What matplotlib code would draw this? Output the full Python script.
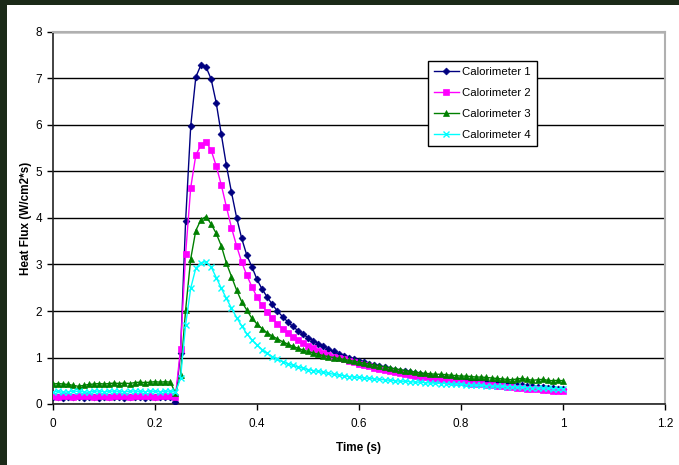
import numpy as np
import matplotlib
matplotlib.use("Agg")
import matplotlib.pyplot as plt
from matplotlib.patches import Rectangle

plt.rcParams['font.family'] = ['Liberation Sans', 'DejaVu Sans']

# time axis, 0.01 s sampling
time_s = np.round(np.arange(0, 101) * 0.01, 2)

# Calorimeter readings (W/cm2*s)
cal1 = [0.14, 0.15, 0.13, 0.14, 0.16, 0.14, 0.13, 0.15, 0.14, 0.13, 0.15, 0.14,
        0.16, 0.14, 0.13, 0.15, 0.14, 0.15, 0.13, 0.14, 0.15, 0.14, 0.16, 0.14,
        0.05, 1.10, 3.93, 5.97, 7.03, 7.29, 7.25, 6.99, 6.48, 5.80, 5.13, 4.55,
        4.01, 3.56, 3.20, 2.95, 2.68, 2.47, 2.30, 2.14, 2.00, 1.88, 1.77, 1.67,
        1.58, 1.50, 1.43, 1.36, 1.30, 1.24, 1.18, 1.13, 1.08, 1.04, 1.00, 0.96,
        0.93, 0.90, 0.87, 0.84, 0.81, 0.79, 0.76, 0.74, 0.72, 0.70, 0.68, 0.66,
        0.64, 0.62, 0.61, 0.59, 0.58, 0.56, 0.55, 0.54, 0.52, 0.51, 0.50, 0.49,
        0.48, 0.47, 0.46, 0.45, 0.44, 0.43, 0.42, 0.41, 0.40, 0.39, 0.38, 0.37,
        0.36, 0.35, 0.34, 0.33, 0.32]

cal2 = [0.17, 0.16, 0.18, 0.17, 0.16, 0.18, 0.17, 0.17, 0.16, 0.18, 0.17, 0.16,
        0.17, 0.18, 0.17, 0.16, 0.17, 0.18, 0.17, 0.17, 0.16, 0.18, 0.17, 0.17,
        0.15, 1.18, 3.22, 4.65, 5.35, 5.57, 5.64, 5.46, 5.12, 4.71, 4.24, 3.79,
        3.40, 3.05, 2.77, 2.52, 2.30, 2.12, 1.97, 1.84, 1.72, 1.62, 1.53, 1.45,
        1.38, 1.31, 1.25, 1.20, 1.15, 1.10, 1.06, 1.02, 0.99, 0.96, 0.93, 0.90,
        0.87, 0.84, 0.81, 0.78, 0.75, 0.73, 0.71, 0.69, 0.67, 0.65, 0.62, 0.60,
        0.58, 0.57, 0.55, 0.54, 0.52, 0.51, 0.49, 0.48, 0.47, 0.45, 0.44, 0.43,
        0.42, 0.41, 0.40, 0.39, 0.38, 0.37, 0.36, 0.35, 0.34, 0.33, 0.33, 0.32,
        0.31, 0.30, 0.29, 0.28, 0.27]

cal3 = [0.43, 0.44, 0.43, 0.42, 0.40, 0.38, 0.40, 0.42, 0.43, 0.44, 0.43, 0.44,
        0.45, 0.44, 0.45, 0.44, 0.46, 0.47, 0.46, 0.47, 0.48, 0.47, 0.48, 0.47,
        0.24, 0.62, 2.02, 3.12, 3.73, 3.96, 4.03, 3.87, 3.67, 3.40, 3.03, 2.74,
        2.45, 2.20, 2.02, 1.84, 1.72, 1.62, 1.53, 1.46, 1.40, 1.34, 1.29, 1.24,
        1.20, 1.16, 1.13, 1.10, 1.07, 1.04, 1.02, 1.00, 0.98, 0.96, 0.94, 0.92,
        0.90, 0.88, 0.86, 0.84, 0.82, 0.80, 0.78, 0.76, 0.74, 0.72, 0.70, 0.69,
        0.67, 0.66, 0.65, 0.64, 0.64, 0.63, 0.62, 0.61, 0.60, 0.60, 0.59, 0.58,
        0.58, 0.57, 0.56, 0.55, 0.54, 0.53, 0.52, 0.54, 0.55, 0.53, 0.51, 0.52,
        0.53, 0.51, 0.50, 0.51, 0.50]

cal4 = [0.26, 0.27, 0.25, 0.26, 0.28, 0.27, 0.26, 0.25, 0.27, 0.28, 0.26, 0.27,
        0.28, 0.27, 0.26, 0.27, 0.28, 0.27, 0.26, 0.28, 0.27, 0.26, 0.27, 0.28,
        0.25, 0.55, 1.70, 2.49, 2.92, 3.04, 3.06, 2.95, 2.72, 2.49, 2.27, 2.06,
        1.86, 1.68, 1.51, 1.38, 1.27, 1.17, 1.09, 1.02, 0.96, 0.91, 0.87, 0.83,
        0.80, 0.77, 0.74, 0.72, 0.70, 0.68, 0.66, 0.64, 0.62, 0.61, 0.59, 0.58,
        0.57, 0.56, 0.55, 0.54, 0.53, 0.52, 0.51, 0.50, 0.49, 0.49, 0.48, 0.47,
        0.47, 0.46, 0.45, 0.45, 0.44, 0.44, 0.43, 0.42, 0.42, 0.41, 0.41, 0.40,
        0.40, 0.39, 0.39, 0.38, 0.38, 0.37, 0.37, 0.36, 0.36, 0.35, 0.35, 0.34,
        0.34, 0.34, 0.33, 0.33, 0.33]

labels = ["Calorimeter 1", "Calorimeter 2", "Calorimeter 3", "Calorimeter 4"]
colors = ["#000080", "#FF00FF", "#008000", "#00FFFF"]
markers = ["D", "s", "^", "x"]
msizes = [3.5, 4, 4.5, 4.5]

fig = plt.figure(figsize=(6.79, 4.65), dpi=100)
fig.patch.set_facecolor("#1b2a18")
# white chart area inside the dark frame
fig.patches.append(Rectangle((7 / 679, 0), 1 - 7 / 679, 1 - 5 / 465,
                             transform=fig.transFigure, facecolor="white",
                             edgecolor="none", zorder=-10))

ax = fig.add_axes([53 / 679, 1 - 404 / 465, 612 / 679, 372 / 465])
ax.set_facecolor("white")

for y, lab, c, m, ms in zip([cal1, cal2, cal3, cal4], labels, colors, markers, msizes):
    ax.plot(time_s, y, color=c, marker=m, markersize=ms, linewidth=1,
            markeredgewidth=1 if m == "x" else 0.5, label=lab, zorder=3)

ax.set_xlim(0, 1.2)
ax.set_ylim(0, 8)
ax.set_xticks(np.arange(0, 1.21, 0.2))
ax.set_xticklabels(["0", "0.2", "0.4", "0.6", "0.8", "1", "1.2"])
ax.set_yticks(range(0, 9))
ax.yaxis.grid(True, color="black", linewidth=1)
ax.set_axisbelow(True)
ax.tick_params(direction="out", length=4, width=1, labelsize=8.5, color="black")
ax.tick_params(axis="y", pad=4)
ax.tick_params(axis="x", pad=6)

for s in ["left", "bottom"]:
    ax.spines[s].set_color("#222222")
    ax.spines[s].set_linewidth(1.2)
for s in ["top", "right"]:
    ax.spines[s].set_color("#b0b0b0")
    ax.spines[s].set_linewidth(1.5)

ax.set_xlabel("Time (s)", fontsize=8.5, fontweight="bold", labelpad=9)
ax.set_ylabel("Heat Flux (W/cm2*s)", fontsize=8.5, fontweight="bold", labelpad=2)

leg = ax.legend(loc="upper left", bbox_to_anchor=(0.612, 0.922), fontsize=8.2,
                frameon=True, fancybox=False, borderpad=0.55, labelspacing=0.95,
                handlelength=2.2, handletextpad=0.25, borderaxespad=0)
leg.get_frame().set_edgecolor("black")
leg.get_frame().set_linewidth(1)
leg.get_frame().set_alpha(1)

fig.savefig("out.png", dpi=100, facecolor=fig.get_facecolor())
